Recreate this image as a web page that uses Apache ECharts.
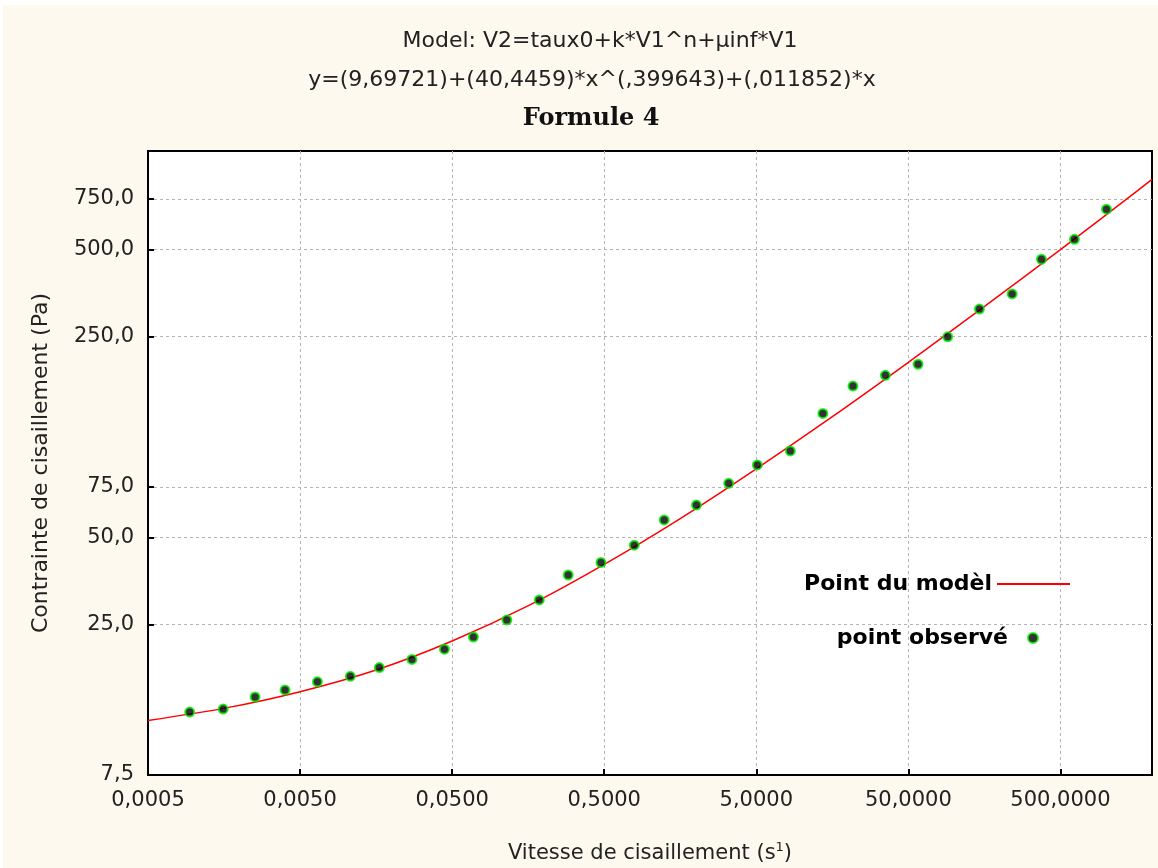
<!DOCTYPE html>
<html>
<head>
<meta charset="utf-8">
<title>Formule 4</title>
<script src="https://cdn.jsdelivr.net/npm/echarts@6/dist/echarts.min.js"></script>
<style>
  html, body { margin: 0; padding: 0; background: #fff; }
  #chart { position: absolute; left: 3px; top: 5px; width: 1155px; height: 863px; }
</style>
</head>
<body>
<div id="chart"></div>
<script>
// points observés (vitesse s-1 / contrainte Pa)
var obsX = [0.00094, 0.00156, 0.00253, 0.00398, 0.0065, 0.0107, 0.0166, 0.0272, 0.0445, 0.069,
  0.1145, 0.187, 0.29, 0.476, 0.788, 1.24, 2.02, 3.29, 5.08, 8.37,
  13.7, 21.6, 35.3, 57.9, 90.7, 146.6, 240.6, 375, 618, 1004];
var obsY = [12.4, 12.7, 14.0, 14.8, 15.8, 16.5, 17.7, 18.9, 20.5, 22.6,
  25.9, 30.4, 37.1, 41.0, 47.1, 57.6, 64.9, 77.2, 89.4, 100,
  135, 168, 183, 200, 249, 311, 351, 463, 543, 691];

// courbe du modèle
var modelX = [0.0005, 0.0016, 0.005, 0.016, 0.05, 0.16, 0.5, 1.6, 5, 16, 50, 160, 500, 1600, 2000];
var modelY = [11.6, 12.8, 14.6, 17.4, 21.9, 29.1, 40.4, 58.5, 86.7, 132, 203, 319, 500, 800, 877];

var xTicks = [0.0005, 0.005, 0.05, 0.5, 5, 50, 500];
var yTicks = [7.5, 25, 50, 75, 250, 500, 750];
var xRange = [0.0005, 2000];
var yRange = [7.5, 1100];

var lg = Math.log10;
function toPairs(xs, ys) {
  return xs.map(function (x, i) { return [lg(x), lg(ys[i])]; });
}
function fmt(v, d) {
  return Math.pow(10, v).toFixed(d).replace(".", ",");
}

var font = "DejaVu Sans";
var myChart = echarts.init(document.getElementById("chart"));
myChart.setOption({
  backgroundColor: "#fdf9ee",
  animation: false,
  title: [
    {
      text: "Model: V2=taux0+k*V1^n+µinf*V1",
      left: 592, top: 20, textAlign: "center",
      textStyle: { fontFamily: font, fontSize: 22, fontWeight: "normal", color: "#222" }
    },
    {
      text: "y=(9,69721)+(40,4459)*x^(,399643)+(,011852)*x",
      left: 584, top: 59, textAlign: "center",
      textStyle: { fontFamily: font, fontSize: 22, fontWeight: "normal", color: "#222" }
    },
    {
      text: "Formule 4",
      left: 583, top: 97, textAlign: "center",
      textStyle: { fontFamily: "DejaVu Serif", fontSize: 24, fontWeight: "bold", color: "#111" }
    }
  ],
  legend: [
    {
      data: [{ name: "Point du modèl", icon: "rect" }],
      right: 83, top: 563,
      align: "right",
      itemWidth: 73, itemHeight: 2,
      textStyle: { fontFamily: font, fontSize: 22, fontWeight: "bold", color: "#000" }
    },
    {
      data: ["point observé"],
      right: 114, top: 617,
      align: "right",
      itemWidth: 40, itemHeight: 10,
      textStyle: { fontFamily: font, fontSize: 22, fontWeight: "bold", color: "#000" }
    }
  ],
  grid: {
    left: 145, right: 6, top: 146, bottom: 93,
    outerBoundsMode: "none",
    show: true, backgroundColor: "#fff", borderColor: "#000", borderWidth: 2
  },
  xAxis: {
    type: "value",
    min: lg(xRange[0]), max: lg(xRange[1]),
    name: "Vitesse de cisaillement (s{sup|1})",
    nameLocation: "middle", nameGap: 66,
    nameTextStyle: {
      fontFamily: font, fontSize: 21, color: "#222",
      rich: { sup: { fontFamily: font, fontSize: 13, color: "#222", padding: [0, 0, 12, 0] } }
    },
    axisLine: { show: true, onZero: false, lineStyle: { color: "#000", width: 2 } },
    axisTick: { inside: true, length: 6, lineStyle: { color: "#000", width: 2 },
      customValues: xTicks.map(lg) },
    axisLabel: {
      customValues: xTicks.map(lg), margin: 15,
      fontFamily: font, fontSize: 21, color: "#222",
      formatter: function (v) { return fmt(v, 4); }
    },
    splitLine: { show: true, lineStyle: { color: "#b4b4b4", type: [3, 3], width: 1 } }
  },
  yAxis: {
    type: "value",
    min: lg(yRange[0]), max: lg(yRange[1]),
    name: "Contrainte de cisaillement (Pa)",
    nameLocation: "middle", nameGap: 96,
    nameTextStyle: { fontFamily: font, fontSize: 22, color: "#222" },
    axisLine: { show: true, onZero: false, lineStyle: { color: "#000", width: 2 } },
    axisTick: { inside: true, length: 6, lineStyle: { color: "#000", width: 2 },
      customValues: yTicks.map(lg) },
    axisLabel: {
      customValues: yTicks.map(lg), margin: 14,
      fontFamily: font, fontSize: 21, color: "#222",
      formatter: function (v) { return fmt(v, 1); }
    },
    splitLine: { show: true, lineStyle: { color: "#b4b4b4", type: [3, 3], width: 1 } }
  },
  series: [
    {
      name: "Point du modèl",
      type: "line",
      data: toPairs(modelX, modelY),
      smooth: 0.3,
      symbol: "none",
      lineStyle: { color: "#ff0000", width: 1.5 },
      itemStyle: { color: "#ff0000" },
      z: 2
    },
    {
      name: "point observé",
      type: "scatter",
      data: toPairs(obsX, obsY),
      symbol: "circle",
      symbolSize: 9,
      itemStyle: { color: "#000", borderColor: "#00ee00", borderWidth: 2 },
      z: 3
    }
  ]
});
</script>
</body>
</html>
